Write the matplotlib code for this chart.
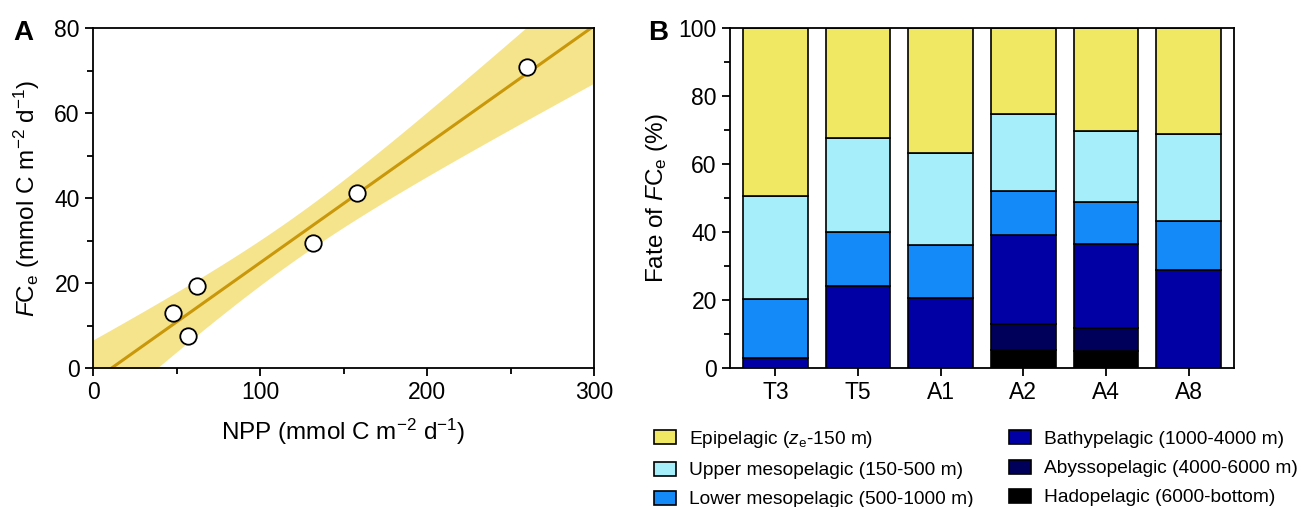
import numpy as np
import matplotlib
matplotlib.use("Agg")
import matplotlib.pyplot as plt
from matplotlib.ticker import MultipleLocator

plt.rcParams["font.family"] = ["Liberation Sans", "DejaVu Sans"]
plt.rcParams["mathtext.fontset"] = "custom"
plt.rcParams["mathtext.rm"] = "Liberation Sans"
plt.rcParams["mathtext.it"] = "Liberation Sans:italic"
plt.rcParams["mathtext.bf"] = "Liberation Sans:bold"

# ---- panel A data ----
npp = np.array([48, 57, 62, 132, 158, 260])
fce = np.array([13.0, 7.5, 19.3, 29.3, 41.2, 70.8])
t_crit = 2.776  # t(0.975, df=4)

# ---- panel B data ----
stations = ["T3", "T5", "A1", "A2", "A4", "A8"]
layers = ["Hadopelagic (6000-bottom)",
          "Abyssopelagic (4000-6000 m)",
          "Bathypelagic (1000-4000 m)",
          "Lower mesopelagic (500-1000 m)",
          "Upper mesopelagic (150-500 m)",
          r"Epipelagic ($z_\mathrm{e}$-150 m)"]
hado = [0, 0, 0, 5.2, 5.0, 0]
abyss = [0, 0, 0, 7.7, 6.9, 0]
bathy = [3.0, 24.2, 20.7, 26.2, 24.5, 28.8]
lower = [17.3, 15.9, 15.4, 12.9, 12.3, 14.5]
upper = [30.2, 27.6, 27.0, 22.8, 20.9, 25.4]
epi = [49.5, 32.3, 36.9, 25.2, 30.4, 31.3]
colors = ["#000000", "#00005A", "#0000A5", "#1489F8", "#A6EEFA", "#F0E862"]

fig = plt.figure(figsize=(13.01, 5.07), dpi=100)
fs_tick = 16.5
fs_lab = 17.5

# ---------------- A ----------------
axA = fig.add_axes([93 / 1301, 1 - 368 / 507, (594 - 93) / 1301, 340 / 507])
xm = npp.mean()
sxx = ((npp - xm) ** 2).sum()
slope = ((npp - xm) * (fce - fce.mean())).sum() / sxx
icpt = fce.mean() - slope * xm
s = np.sqrt(((fce - (icpt + slope * npp)) ** 2).sum() / (len(npp) - 2))
xx = np.linspace(0, 300, 200)
yy = icpt + slope * xx
hw = t_crit * s * np.sqrt(1 / len(npp) + (xx - xm) ** 2 / sxx)
axA.fill_between(xx, yy - hw, yy + hw, color="#F6E48C", lw=0, zorder=1)
axA.plot(xx, yy, color="#C9980A", lw=2.2, zorder=2)
axA.scatter(npp, fce, s=140, facecolor="white", edgecolor="black", lw=1.3, zorder=3)
axA.set_xlim(0, 300)
axA.set_ylim(0, 80)
axA.xaxis.set_major_locator(MultipleLocator(100))
axA.xaxis.set_minor_locator(MultipleLocator(50))
axA.yaxis.set_major_locator(MultipleLocator(20))
axA.yaxis.set_minor_locator(MultipleLocator(10))
axA.set_xlabel(r"NPP (mmol C m$^{-2}$ d$^{-1}$)", fontsize=fs_lab, labelpad=9)
axA.set_ylabel(r"$F$C$_\mathrm{e}$ (mmol C m$^{-2}$ d$^{-1}$)", fontsize=fs_lab, labelpad=9)
fig.text(13 / 1301, 1 - 40 / 507, "A", fontsize=20, fontweight="bold")

# ---------------- B ----------------
axB = fig.add_axes([730 / 1301, 1 - 368 / 507, (1234 - 730) / 1301, 340 / 507])
x = np.arange(len(stations))
bottom = np.zeros(len(stations))
handles = []
for vals, c in zip([hado, abyss, bathy, lower, upper, epi], colors):
    b = axB.bar(x, vals, 0.78, bottom=bottom, color=c, edgecolor="black", lw=1.2)
    handles.append(b)
    bottom += np.array(vals)
axB.set_xlim(-0.55, 5.55)
axB.set_ylim(0, 100)
axB.set_xticks(x)
axB.set_xticklabels(stations)
axB.yaxis.set_major_locator(MultipleLocator(20))
axB.yaxis.set_minor_locator(MultipleLocator(10))
axB.set_ylabel(r"Fate of $F$C$_\mathrm{e}$ (%)", fontsize=fs_lab, labelpad=6)
fig.text(648 / 1301, 1 - 40 / 507, "B", fontsize=20, fontweight="bold")

for ax in (axA, axB):
    for sp in ax.spines.values():
        sp.set_linewidth(1.3)
    ax.tick_params(which="major", direction="out", length=6, width=1.3, labelsize=fs_tick)
    ax.tick_params(which="minor", direction="out", length=4, width=1.3)
axB.tick_params(axis="x", which="minor", length=0)

order = [5, 4, 3, 2, 1, 0]
fig.legend([handles[i] for i in order], [layers[i] for i in order],
           ncol=2, loc="upper left", bbox_to_anchor=(654 / 1301, 1 - 429 / 507),
           frameon=False, fontsize=13.8, handlelength=1.15, handleheight=0.75,
           handletextpad=0.7, labelspacing=0.6, columnspacing=1.8,
           borderpad=0, borderaxespad=0)

fig.savefig("out.png", dpi=100)
